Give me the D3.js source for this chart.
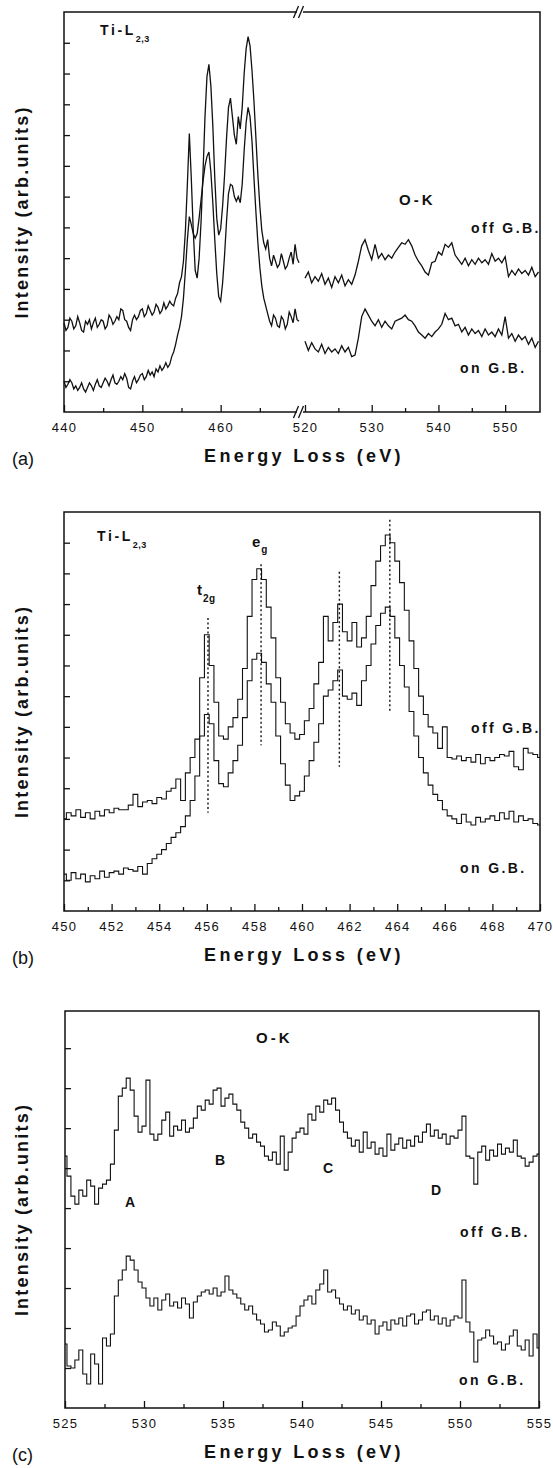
<!DOCTYPE html>
<html>
<head>
<meta charset="utf-8">
<script src="https://cdn.jsdelivr.net/npm/d3@7"></script>
<style>
  body { margin: 0; background: #fff; }
  svg { display: block; }
  text { font-family: "Liberation Sans", Arial, Helvetica, sans-serif; fill: #111; }
</style>
</head>
<body>
<div id="chart"></div>
<script>
// ---- data (intensity in arb. units) ----

// panel (a) Ti-L2,3 part, 440 -> 470 eV every 0.25 eV
const tiLStartA = 440, tiLStepA = 0.25
const tiOffA = [
  2.9, 2.65, 2.75, 3.05, 2.95, 2.7, 2.8, 3.1, 2.9, 2.65,
  2.6, 2.95, 2.85, 3.0, 2.7, 2.9, 3.05, 2.75, 2.85, 3.0,
  2.95, 2.7, 2.8, 3.15, 3.05, 2.85, 2.95, 3.1, 3.0, 3.35,
  3.3, 3.0, 2.95, 2.75, 2.65, 3.0, 3.15, 3.0, 3.1, 3.3,
  3.35, 3.1, 3.2, 3.45, 3.3, 3.15, 3.25, 3.5, 3.4, 3.2,
  3.3, 3.55, 3.35, 3.45, 3.6, 3.5, 3.45, 3.7, 3.85, 4.2,
  4.4, 4.9, 5.9, 7.4, 9.05, 7.6, 5.9, 4.6, 4.35, 5.0,
  6.2, 7.8, 9.6, 10.9, 11.3, 10.6, 9.3, 7.6, 6.3, 5.75,
  5.95, 6.7, 7.7, 8.9, 9.9, 10.2, 9.6, 9.0, 8.7, 9.6,
  9.2, 9.9, 11.0, 11.8, 12.2, 11.9, 11.1, 10.1, 8.9, 7.7,
  6.7, 5.9, 5.5, 5.3, 5.6, 5.0, 4.75, 5.1, 4.9, 4.7,
  4.8, 5.15, 4.9, 4.65, 4.75, 5.0, 5.2, 4.8, 5.45, 5.0,
  4.85
]
const tiOnA = [
  1.0, 0.8, 0.9, 1.05, 0.95, 0.75, 0.85, 0.7, 0.8, 0.95,
  0.75, 0.65, 0.8, 0.95, 0.85, 0.7, 0.9, 1.05, 0.85, 0.8,
  0.95, 1.1, 1.0, 0.85, 1.05, 1.2, 0.95, 0.9, 1.0, 1.15,
  1.05, 1.25, 1.1, 0.8, 0.75, 1.0, 1.15, 0.95, 1.05, 1.2,
  1.25, 1.05, 1.15, 1.35, 1.2, 1.3, 1.15, 1.4, 1.3, 1.5,
  1.35, 1.45, 1.6, 1.45, 1.55, 1.8, 1.95, 2.2, 2.5, 2.75,
  3.1, 3.7, 4.6, 5.6, 6.35, 6.1, 5.8, 5.65, 5.8, 6.3,
  6.9, 7.5, 8.0, 8.3, 8.45, 7.8, 6.8, 5.6, 4.5, 3.75,
  3.6, 4.2, 5.1, 6.2, 7.1, 7.4, 7.35, 7.0, 6.85, 7.0,
  6.8, 7.4, 8.5, 9.4, 9.9, 9.6, 8.8, 7.6, 6.5, 5.5,
  4.7, 4.1, 3.7, 3.45, 3.2, 2.95, 2.8, 3.15, 3.05, 2.8,
  2.75, 3.1, 3.0, 2.7, 2.85, 3.25, 3.1, 2.9, 3.35, 3.0,
  2.95
]

// panel (a) O-K part, 520 -> 555 eV every 0.5 eV
const okStartA = 520, okStepA = 0.5
const okOffA = [
  4.35, 4.55, 4.2, 4.4, 4.25, 4.5, 4.15, 4.35, 4.05, 4.4,
  4.2, 4.45, 4.1, 4.3, 4.15, 4.45, 4.9, 5.4, 5.6, 5.25,
  4.95, 5.45, 5.0, 5.15, 4.95, 5.1, 5.0, 5.2, 5.35, 5.5,
  5.45, 5.6, 5.4, 5.1, 4.9, 4.75, 4.55, 4.45, 4.85, 4.9,
  5.2, 5.1, 5.45, 5.35, 5.5, 5.1, 4.95, 4.8, 5.0, 4.75,
  4.95, 4.8, 5.0, 4.85, 4.95, 4.8, 5.15, 4.9, 5.0, 4.85,
  5.05, 4.4, 4.6, 4.45, 4.65, 4.5, 4.6, 4.45, 4.7, 4.4,
  4.55
]
const okOnA = [
  2.3, 2.0, 2.25, 2.05, 1.95, 2.2, 1.9, 2.1, 1.95, 2.05,
  1.9, 2.15, 1.95, 2.1, 1.8, 1.85, 2.4, 3.1, 3.35, 3.15,
  2.95, 2.8, 3.0, 2.75, 2.95, 2.8, 2.7, 2.95, 3.0, 3.05,
  3.15, 3.0, 2.95, 2.8, 2.6, 2.5, 2.4, 2.55, 2.45, 2.6,
  2.7, 2.85, 3.2, 3.0, 3.05, 2.8, 2.85, 2.6, 2.75, 2.5,
  2.7, 2.55, 2.65, 2.45, 2.7, 2.5, 2.6, 2.45, 2.7, 2.5,
  3.1, 2.4, 2.55, 2.3, 2.5, 2.35, 2.45, 2.2, 2.4, 2.1,
  2.3
]

// panel (b) Ti-L2,3, 450 -> 470 eV every 0.2 eV
const tiStartB = 450, tiStepB = 0.2
const tiOffB = [
  3.0, 3.2, 3.1, 3.3, 3.05, 3.2, 3.0, 3.25, 3.1, 3.3,
  3.2, 3.35, 3.3, 3.3, 3.45, 3.8, 3.4, 3.55, 3.6, 3.5,
  3.7, 3.65, 3.9, 4.0, 4.3, 3.6, 4.5, 5.0, 5.6, 7.6,
  9.0, 8.0, 6.8, 5.7, 5.6, 6.0, 6.3, 6.9, 7.9, 9.6,
  10.8, 11.15, 10.8, 9.9, 8.9, 7.6, 6.8, 6.1, 5.8, 5.6,
  5.75, 6.2, 6.6, 7.4, 8.1, 9.6, 8.8, 9.4, 10.0, 9.1,
  8.8, 9.4, 8.6, 8.9, 9.6, 10.6, 11.4, 11.9, 12.25, 12.0,
  11.4, 10.7, 9.8, 8.8, 7.9, 7.0, 6.4, 6.0, 5.8, 5.3,
  6.0, 5.0, 4.95, 5.05, 4.9, 5.0, 4.85, 5.1, 4.8, 5.0,
  4.9, 5.0, 5.1, 5.05, 5.2, 4.7, 4.6, 5.3, 5.15, 5.1,
  5.0
]
const tiOnB = [
  1.2, 1.0, 1.25, 1.05, 1.2, 0.95, 1.15, 1.05, 1.3, 1.1,
  1.25, 1.3, 1.2, 1.4, 1.35, 1.3, 1.45, 1.2, 1.55, 1.7,
  1.85, 2.0, 2.2, 2.4, 2.55, 2.75, 3.1, 3.6, 4.4, 5.7,
  6.4, 6.1, 4.9, 4.15, 4.05, 4.5, 4.9, 5.4, 6.3, 7.5,
  8.2, 8.4, 8.1, 7.4, 6.8, 5.7, 4.8, 4.1, 3.6, 3.75,
  3.9, 4.4, 4.9, 5.5, 6.1, 7.0, 7.2, 7.5, 7.85, 7.0,
  6.9, 7.1, 6.7, 7.5, 8.0, 8.7, 9.3, 9.7, 9.9, 9.6,
  8.9, 8.0, 7.3, 6.5, 5.7, 5.0, 4.5, 4.1, 3.8, 3.6,
  3.3, 3.1, 3.0, 2.85, 3.15, 2.9, 2.8, 3.05, 2.9, 3.0,
  3.1, 2.95, 3.2, 3.0, 3.25, 2.9, 3.1, 2.95, 3.0, 2.85,
  2.8
]
// dotted peak markers in (b)
const peakEnergies = [456.05, 458.28, 461.57, 463.69]
const peakTops = [9.55, 11.3, 11.05, 12.75]
const peakBottoms = [3.2, 5.4, 4.7, 6.45]

// panel (c) O-K, 525 -> 555 eV every 0.25 eV
const okStartC = 525, okStepC = 0.25
const okOffC = [
  6.3, 5.8, 5.3, 5.1, 5.45, 5.3, 5.7, 5.55, 5.1, 5.5,
  5.6, 5.7, 6.1, 6.95, 7.8, 8.0, 8.25, 7.95, 7.3, 6.9,
  7.05, 8.2, 6.85, 6.7, 6.85, 7.2, 7.4, 6.8, 7.05, 6.95,
  7.2, 6.9, 7.0, 7.25, 7.55, 7.45, 7.7, 7.6, 7.95, 8.0,
  7.55, 7.75, 7.85, 7.6, 7.45, 7.15, 7.0, 6.75, 6.85, 6.65,
  6.55, 6.3, 6.2, 6.4, 6.1, 6.8, 5.95, 6.4, 6.75, 6.9,
  7.0, 6.85, 7.35, 7.2, 7.55, 7.4, 7.7, 7.6, 7.75, 7.45,
  7.15, 6.9, 6.75, 6.55, 6.7, 6.4, 6.9, 6.5, 6.65, 6.35,
  6.5, 6.3, 6.85, 6.45, 6.6, 6.75, 6.5, 6.7, 6.55, 6.8,
  6.65, 6.9, 7.1, 6.8, 6.95, 6.75, 6.85, 6.6, 6.8, 6.75,
  6.95, 7.3, 6.3, 6.25, 5.6, 6.4, 6.55, 6.2, 6.45, 6.3,
  6.6, 6.35, 6.5, 6.4, 6.7, 6.3, 6.25, 6.05, 6.15, 6.3,
  6.35
]
const okOnC = [
  1.6, 1.05, 1.0, 1.2, 1.45, 0.85, 0.6, 1.35, 1.1, 0.6,
  1.75, 1.55, 1.85, 2.8, 3.2, 3.45, 3.8, 3.7, 3.45, 3.15,
  3.0, 2.75, 2.55, 2.75, 2.45, 2.7, 2.85, 2.55, 2.65, 2.5,
  2.75, 2.6, 2.25, 2.65, 2.8, 2.9, 2.95, 2.85, 3.0, 2.8,
  2.9, 3.3, 2.95, 2.85, 2.75, 2.6, 2.45, 2.55, 2.35, 2.2,
  2.1, 1.9, 1.95, 2.15, 2.05, 1.8, 1.9, 2.0, 2.05, 2.3,
  2.55, 2.7, 2.8, 2.6, 2.95, 3.1, 3.45, 2.9, 2.95, 2.75,
  2.6, 2.45, 2.55, 2.35, 2.45, 2.2, 2.3, 2.1, 2.2, 1.85,
  2.05, 2.15, 1.95, 2.2, 2.1, 2.25, 2.05, 2.3, 2.35, 2.1,
  2.2, 2.4, 2.45, 2.2, 2.3, 2.1, 2.25, 2.05, 2.2, 2.3,
  2.25, 3.2, 2.15, 1.9, 1.15, 1.7, 1.75, 1.95, 1.8, 1.6,
  1.65, 1.45, 1.6, 1.8, 1.95, 1.55, 1.45, 1.7, 1.3, 1.85,
  1.5
]

// tick values
const ticksA_left = [440, 450, 460]
const minorA_left = [445, 455, 465]
const ticksA_right = [520, 530, 540, 550]
const minorA_right = [525, 535, 545]
const ticksB = [450, 452, 454, 456, 458, 460, 462, 464, 466, 468, 470]
const minorB = [451, 453, 455, 457, 459, 461, 463, 465, 467, 469]
const ticksC = [525, 530, 535, 540, 545, 550, 555]
const minorC = [527.5, 532.5, 537.5, 542.5, 547.5, 552.5]
const yTicksAB = d3.range(1, 13)
const yTicksC = d3.range(1, 10)

// ---- drawing ----
const width = 553, height = 1468
const svg = d3.select("#chart").append("svg")
    .attr("width", width)
    .attr("height", height)

const ink = "#111"

const addSeries = (g, values, start, step, xScale, yScale, strokeWidth, curve) => {
    const lineGenerator = d3.line()
        .x((d, i) => xScale(start + i * step))
        .y(d => yScale(d))
        .curve(curve)
    g.append("path")
        .attr("d", lineGenerator(values))
        .attr("fill", "none")
        .attr("stroke", ink)
        .attr("stroke-width", strokeWidth)
        .attr("stroke-linejoin", "miter")
}

const addXAxis = (g, scale, bottom, major, minor) => {
    g.append("g")
        .attr("transform", `translate(0, ${bottom})`)
        .call(d3.axisBottom(scale).tickValues(minor).tickSizeInner(-4).tickSizeOuter(0).tickFormat(""))
        .call(a => a.select(".domain").remove())
        .call(a => a.selectAll("line").attr("stroke", ink).attr("stroke-width", 1.3))
    g.append("g")
        .attr("transform", `translate(0, ${bottom})`)
        .call(d3.axisBottom(scale).tickValues(major).tickSizeInner(-7).tickSizeOuter(0).tickPadding(11).tickFormat(d3.format("d")))
        .call(a => a.select(".domain").remove())
        .call(a => a.selectAll("line").attr("stroke", ink).attr("stroke-width", 1.3))
        .call(a => a.selectAll("text")
            .attr("font-size", 13)
            .attr("letter-spacing", "1.3px")
            .attr("fill", ink)
            .attr("font-family", "Liberation Sans, Arial, sans-serif"))
}

const addYAxis = (g, yScale, left, ticks) => {
    g.append("g")
        .attr("transform", `translate(${left}, 0)`)
        .call(d3.axisLeft(yScale).tickValues(ticks).tickSizeInner(-6).tickSizeOuter(0).tickFormat(""))
        .call(a => a.select(".domain").remove())
        .call(a => a.selectAll("line").attr("stroke", ink).attr("stroke-width", 1.3))
}

const addFrame = (g, box) => {
    g.append("rect")
        .attr("x", box.left)
        .attr("y", box.top)
        .attr("width", box.right - box.left)
        .attr("height", box.bottom - box.top)
        .attr("fill", "none")
        .attr("stroke", ink)
        .attr("stroke-width", 1.5)
}

const addLabels = (g, box, letter) => {
    g.append("text")
        .attr("transform", `translate(28, ${(box.top + box.bottom) / 2}) rotate(-90)`)
        .attr("text-anchor", "middle")
        .attr("font-size", 18)
        .attr("font-weight", "bold")
        .attr("letter-spacing", "2.2px")
        .text("Intensity (arb.units)")
    g.append("text")
        .attr("x", (box.left + box.right) / 2 + 2)
        .attr("y", box.bottom + 50)
        .attr("text-anchor", "middle")
        .attr("font-size", 18)
        .attr("font-weight", "bold")
        .attr("letter-spacing", "3.3px")
        .text("Energy Loss (eV)")
    g.append("text")
        .attr("x", 12)
        .attr("y", box.bottom + 53)
        .attr("font-size", 18)
        .text(letter)
}

const bold = (g, x, y, str, size = 14, spacing = 2.4, anchor = "start") =>
    g.append("text")
        .attr("x", x)
        .attr("y", y)
        .attr("text-anchor", anchor)
        .attr("font-size", size)
        .attr("font-weight", "bold")
        .attr("letter-spacing", `${spacing}px`)
        .text(str)

const withSub = (g, x, y, main, sub, size, subSize, drop, spacing) => {
    const t = g.append("text")
        .attr("x", x)
        .attr("y", y)
        .attr("font-weight", "bold")
        .attr("letter-spacing", `${spacing}px`)
    t.append("tspan").attr("font-size", size).text(main)
    t.append("tspan").attr("font-size", subSize).attr("dy", drop).attr("letter-spacing", "0.5px").text(sub)
}

// ---------- panel (a) ----------
{
    const box = { left: 64, right: 540, top: 12, bottom: 412 }
    const g = svg.append("g")
    const y = d3.scaleLinear().domain([0, 13]).range([box.bottom, box.top])
    const xLeft = d3.scaleLinear().domain([440, 470]).range([box.left, 299])
    const xRight = d3.scaleLinear().domain([520, 555]).range([305, 538.5])

    addSeries(g, tiOffA, tiLStartA, tiLStepA, xLeft, y, 1.3, d3.curveLinear)
    addSeries(g, tiOnA, tiLStartA, tiLStepA, xLeft, y, 1.3, d3.curveLinear)
    addSeries(g, okOffA, okStartA, okStepA, xRight, y, 1.3, d3.curveLinear)
    addSeries(g, okOnA, okStartA, okStepA, xRight, y, 1.3, d3.curveLinear)

    addFrame(g, box)
    addXAxis(g, xLeft, box.bottom, ticksA_left, minorA_left)
    addXAxis(g, xRight, box.bottom, ticksA_right, minorA_right)
    addYAxis(g, y, box.left, yTicksAB)

    // axis break marks
    ;[box.top, box.bottom].forEach(yy => {
        g.append("rect").attr("x", 297).attr("y", yy - 2).attr("width", 6).attr("height", 4).attr("fill", "#fff")
        ;[295.5, 300.5].forEach(xx => {
            g.append("line")
                .attr("x1", xx - 2).attr("y1", yy + 6)
                .attr("x2", xx + 3).attr("y2", yy - 6)
                .attr("stroke", ink).attr("stroke-width", 1.3)
        })
    })

    withSub(g, 100, 35, "Ti-L", "2,3", 14, 9, 7, 2.6)
    bold(g, 399, 205, "O-K", 15, 3)
    bold(g, 471, 233, "off G.B.")
    bold(g, 460, 373, "on G.B.")
    addLabels(g, box, "(a)")
}

// ---------- panel (b) ----------
{
    const box = { left: 64, right: 540, top: 512, bottom: 911 }
    const g = svg.append("g")
    const y = d3.scaleLinear().domain([0, 13]).range([box.bottom, box.top])
    const x = d3.scaleLinear().domain([450, 470]).range([box.left, box.right])

    addSeries(g, tiOffB, tiStartB, tiStepB, x, y, 1.1, d3.curveStep)
    addSeries(g, tiOnB, tiStartB, tiStepB, x, y, 1.1, d3.curveStep)

    g.selectAll(".peak")
        .data(peakEnergies)
        .enter()
        .append("line")
        .attr("class", "peak")
        .attr("x1", d => x(d))
        .attr("x2", d => x(d))
        .attr("y1", (d, i) => y(peakTops[i]))
        .attr("y2", (d, i) => y(peakBottoms[i]))
        .attr("stroke", ink)
        .attr("stroke-width", 1.4)
        .attr("stroke-dasharray", "2,2.5")

    addFrame(g, box)
    addXAxis(g, x, box.bottom, ticksB, minorB)
    addYAxis(g, y, box.left, yTicksAB)

    withSub(g, 97, 541, "Ti-L", "2,3", 14, 9, 7, 2.6)
    withSub(g, 252, 547, "e", "g", 15, 10, 6, 1)
    withSub(g, 197, 595, "t", "2g", 15, 10, 7, 1)
    bold(g, 471, 733, "off G.B.")
    bold(g, 460, 873, "on G.B.")
    addLabels(g, box, "(b)")
}

// ---------- panel (c) ----------
{
    const box = { left: 65, right: 539, top: 1011, bottom: 1408 }
    const g = svg.append("g")
    const y = d3.scaleLinear().domain([0, 9.93]).range([box.bottom, box.top])
    const x = d3.scaleLinear().domain([525, 555]).range([box.left, box.right])

    addSeries(g, okOffC, okStartC, okStepC, x, y, 1.1, d3.curveStep)
    addSeries(g, okOnC, okStartC, okStepC, x, y, 1.1, d3.curveStep)

    addFrame(g, box)
    addXAxis(g, x, box.bottom, ticksC, minorC)
    addYAxis(g, y, box.left, yTicksC)

    bold(g, 256, 1043, "O-K", 15, 3)
    bold(g, 130, 1207, "A", 14, 0, "middle")
    bold(g, 220, 1165, "B", 14, 0, "middle")
    bold(g, 328, 1173, "C", 14, 0, "middle")
    bold(g, 436, 1195, "D", 14, 0, "middle")
    bold(g, 460, 1237, "off G.B.")
    bold(g, 459, 1385, "on G.B.")
    addLabels(g, box, "(c)")
}
</script>
</body>
</html>
